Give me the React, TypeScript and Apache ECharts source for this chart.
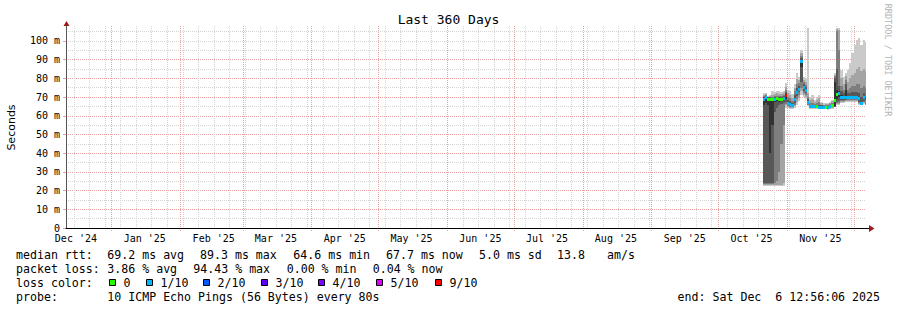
import React, { useEffect, useRef } from "react";
import * as echarts from "echarts";

// time axis in days since 2024-12-01 00:00
const X_MIN = 10.539; // Wed Dec 11 12:56:06 2024
const X_MAX = 370.539; // Sat Dec  6 12:56:06 2025
const DAY0 = 324; // first data bucket (1 bucket = 1 day)
const MONTH_STARTS = [31, 62, 90, 121, 151, 182, 212, 243, 274, 304, 335, 365];
const FIRST_SUNDAY = 14;
const MONTH_LABEL_DAYS = [15, 46, 77, 105, 136, 166, 197, 227, 258, 289, 319, 350];
const MONTH_LABELS = ["Dec '24", "Jan '25", "Feb '25", "Mar '25", "Apr '25", "May '25", "Jun '25", "Jul '25", "Aug '25", "Sep '25", "Oct '25", "Nov '25"];
const Y_TICKS = [0, 10, 20, 30, 40, 50, 60, 70, 80, 90, 100];

const LOSS_LABELS = ["0", "1/10", "2/10", "3/10", "4/10", "5/10", "9/10"];
const LOSS_COLORS = ["#26ff00", "#00b8ff", "#0059ff", "#5e00ff", "#7e00ff", "#dd00ff", "#ff0000"];
const SMOKE_COLORS = ["#cacaca", "#a4a4a4", "#7e7e7e", "#585858", "#323232"];

// median rtt (ms) per day bucket
const MEDIAN = [69.0, 70.0, 69.0, 69.2, 68.8, 69.0, 69.3, 68.8, 69.0, 69.5,
  71.0, 67.0, 66.5, 65.8, 68.8, 72.9, 74.5, 89.3, 75.6, 73.8,
  67.5, 65.2, 65.2, 65.0, 65.0, 64.8, 64.8, 64.7, 64.9, 64.6,
  65.0, 65.5, 68.4, 71.5, 72.0, 70.2, 69.8, 70.0, 70.2, 70.3,
  70.3, 70.3, 70.2, 69.5, 67.0, 69.8, 67.7];
// loss level index into LOSS_LABELS
const LOSS = [1, 1, 0, 0, 0, 1, 0, 0, 0, 1,
  6, 1, 1, 1, 1, 1, 1, 1, 1, 1,
  1, 1, 1, 1, 0, 1, 1, 1, 0, 1,
  1, 0, 0, 0, 1, 1, 1, 1, 1, 1,
  1, 1, 1, 1, 1, 1, 1];
// sorted pings (ms) per day bucket, p1 lowest .. p10 highest
const P1 = [22.6, 22.6, 22.6, 22.6, 22.6, 22.6, 22.6, 22.6, 22.6, 22.6, 64, 64, 63.5, 63.5, 64, 66, 68, 71, 70, 69, 65, 63.5, 63.5, 63.5, 63.5, 63.5, 63.5, 63.5, 63.5, 63.3, 63.5, 63.8, 64.5, 66, 66, 67, 67, 67.5, 67.5, 67.5, 67.5, 67.5, 67.5, 66, 65.5, 66.5, 65.5];
const P2 = [23, 23, 23, 23, 23, 23, 23, 23, 23, 24, 65.5, 64.5, 64, 64, 65, 67.5, 69.5, 73, 71, 70, 65.5, 64, 64, 64, 64, 63.8, 63.8, 63.8, 63.8, 63.6, 63.8, 64.1, 64.6, 66.5, 66.5, 67.5, 67.5, 68, 68, 68, 68, 68, 68, 66.5, 66, 67, 66];
const P3 = [23.5, 23.5, 23.5, 23.5, 23.5, 24, 25, 30, 45, 55, 66.5, 65, 64.5, 64.5, 66, 69, 71, 75, 72, 71, 66, 64.5, 64.5, 64.3, 64.3, 64.1, 64.1, 64, 64.1, 63.9, 64.1, 64.5, 64.7, 67, 67, 68, 68, 68.3, 68.5, 68.5, 68.5, 68.5, 68.5, 67, 66.3, 67.5, 66.5];
const P4 = [24, 24, 24, 24, 24, 62, 64, 66, 66.5, 67, 67.5, 65.5, 65, 65, 67, 70.5, 72.5, 78, 73, 72, 66.5, 64.8, 64.8, 64.6, 64.6, 64.4, 64.4, 64.3, 64.4, 64.2, 64.4, 64.8, 64.8, 67.5, 68, 68.5, 68.5, 68.6, 69, 69, 69, 69, 69, 67.5, 66.6, 68, 67];
const P5 = [66, 67, 66, 40, 55, 67.5, 68, 67.5, 68, 68.5, 69, 66, 65.8, 65.5, 68, 72, 73.5, 86, 74.5, 73, 67, 65, 65, 64.8, 64.8, 64.6, 64.6, 64.5, 64.6, 64.4, 64.7, 65.2, 65, 69, 70, 69.5, 69.3, 69, 69.7, 69.8, 69.8, 69.8, 69.8, 68.5, 66.8, 69, 67.3];
const P6 = [69.5, 70.5, 69.5, 69.5, 69.3, 69.5, 69.8, 69.3, 69.5, 70, 71.5, 67.5, 67, 66, 69.5, 73.5, 75, 90, 76, 74.5, 68, 65.5, 65.5, 65.3, 65.3, 65.2, 65.0, 64.9, 65.0, 64.8, 65.2, 65.7, 78, 74, 73, 71, 70.5, 74, 70.7, 70.8, 70.8, 70.8, 70.8, 70, 67.5, 70.5, 68.2];
const P7 = [70, 70.8, 69.8, 69.8, 69.6, 70, 70.2, 69.8, 70, 70.5, 72.5, 68.5, 68, 67, 71, 75, 76, 91, 77, 75.5, 69, 66, 66, 65.8, 66, 66, 65.5, 65.2, 65.4, 65.2, 65.6, 66.3, 80, 85, 76, 73, 72, 77, 72, 72, 72.5, 72.5, 72.5, 72, 70, 72, 70];
const P8 = [70.5, 71, 70, 70, 70, 70.5, 70.8, 70.5, 70.5, 71, 74, 70, 69.5, 68, 73, 77, 77.5, 92, 78, 76.5, 70, 67, 67, 66.5, 67, 67.5, 66, 65.6, 65.8, 65.6, 66.2, 67, 81.5, 105.5, 95, 76, 74, 79, 74, 75, 76, 76, 77, 77, 75, 76, 75];
const P9 = [71, 71.5, 70.3, 70.5, 71, 71.5, 72, 71.5, 71.5, 72, 75.5, 72, 71, 69.5, 75, 79.5, 79, 93.5, 79, 78, 72, 68.5, 69, 67.5, 68.5, 69.5, 66.8, 66, 66.2, 66.2, 66.8, 67.7, 82, 106.5, 106, 80, 77, 81.5, 78, 80, 82, 83, 85, 86, 84, 85, 84];
const P10 = [72.3, 72, 70.8, 71, 73, 72.5, 73.2, 73, 72.5, 73, 77.5, 74, 73, 71.5, 77, 82.7, 81, 95.2, 81, 80, 106.8, 70, 71.1, 68.5, 70, 71, 67.5, 66.6, 66.8, 67, 67.5, 68.4, 82.7, 106.8, 106.8, 84.5, 81, 83, 84.5, 88, 93.4, 97.8, 100.5, 101.4, 97.8, 100.5, 99.6];
const PINGS = [P1, P2, P3, P4, P5, P6, P7, P8, P9, P10];

const MONO = "'DejaVu Sans Mono', monospace";
const MGRID = "#e9a3a3";
const GRID = "#d4d4d4";

function bandSeries(b: number) {
  const lo = PINGS[b];
  const hi = PINGS[9 - b];
  const color = SMOKE_COLORS[b];
  return {
    type: "custom",
    z: 3 + b * 0.01,
    coordinateSystem: "cartesian2d",
    silent: true,
    encode: { x: 0, y: [1, 2] },
    data: MEDIAN.map((_, i) => [DAY0 + i, lo[i], hi[i]]),
    renderItem: (_p: any, api: any) => {
      const d = api.value(0);
      const a = api.coord([d, api.value(2)]);
      const c = api.coord([Math.min(d + 1, X_MAX), api.value(1)]);
      const x0 = Math.round(a[0]);
      const x1 = Math.round(c[0]);
      const y0 = Math.round(a[1]);
      const y1 = Math.round(c[1]);
      return { type: "rect", shape: { x: x0, y: y0, width: x1 - x0, height: Math.max(1, y1 - y0) }, style: { fill: color } };
    },
  };
}

export default function App() {
  const ref = useRef<HTMLDivElement>(null);
  useEffect(() => {
    if (!ref.current) return;
    const chart = echarts.init(ref.current, undefined, { renderer: "svg" });

    const gridLines: number[][] = [];
    for (let d = FIRST_SUNDAY; d <= X_MAX; d += 7) gridLines.push([d, 0]);
    MONTH_STARTS.forEach((d) => gridLines.push([d, 1]));

    const textEl = (x: number, y: number, text: string, align = "left", extra: any = {}) => ({
      type: "text", x, y, silent: true,
      style: { text, font: `11.6px ${MONO}`, fill: "#000", textAlign: align, textVerticalAlign: "middle", ...extra },
    });

    const legendX = [109, 146, 203, 261, 318, 376, 435];
    const graphics: any[] = [
      textEl(448.5, 19.5, "Last 360 Days", "center", { font: `13px ${MONO}` }),
      { type: "text", x: 11.5, y: 127.5, rotation: Math.PI / 2, silent: true,
        style: { text: "Seconds", font: "11px 'DejaVu Sans', sans-serif", fill: "#000", textAlign: "center", textVerticalAlign: "middle" } },
      { type: "text", x: 887.5, y: 60, rotation: -Math.PI / 2, silent: true,
        style: { text: "RRDTOOL / TOBI OETIKER", font: `8.5px ${MONO}`, fill: "#b4b4b4", textAlign: "center", textVerticalAlign: "middle" } },
      { type: "polygon", silent: true, shape: { points: [[63.5, 26], [69.5, 26], [66.5, 21]] }, style: { fill: "#a01818" } },
      { type: "line", silent: true, shape: { x1: 866, y1: 228.5, x2: 870, y2: 228.5 }, style: { stroke: "#000", lineWidth: 1 } },
      { type: "polygon", silent: true, shape: { points: [[869, 225], [869, 232], [874.5, 228.5]] }, style: { fill: "#a01818" } },
      textEl(16, 254.5, "median rtt:"),
      textEl(107.3, 254.5, "69.2 ms avg"),
      textEl(200, 254.5, "89.3 ms max"),
      textEl(293.3, 254.5, "64.6 ms min"),
      textEl(386, 254.5, "67.7 ms now"),
      textEl(479, 254.5, "5.0 ms sd"),
      textEl(557, 254.5, "13.8"),
      textEl(607, 254.5, "am/s"),
      textEl(16, 268.5, "packet loss:"),
      textEl(107.3, 268.5, "3.86 % avg"),
      textEl(193.3, 268.5, "94.43 % max"),
      textEl(286.7, 268.5, "0.00 % min"),
      textEl(372.7, 268.5, "0.04 % now"),
      textEl(16, 282.5, "loss color:"),
      textEl(16, 296.5, "probe:"),
      textEl(107.3, 296.5, "10 ICMP Echo Pings (56 Bytes) every 80s"),
      textEl(880, 296.5, "end: Sat Dec  6 12:56:06 2025", "right"),
    ];
    LOSS_LABELS.forEach((lab, i) => {
      graphics.push({ type: "rect", silent: true, shape: { x: legendX[i] + 0.5, y: 279.5, width: 6, height: 6 },
        style: { fill: LOSS_COLORS[i], stroke: "#000", lineWidth: 1 } });
      graphics.push(textEl(legendX[i] + 14.5, 282.5, lab));
    });

    chart.setOption({
      animation: false,
      backgroundColor: "#ffffff",
      grid: { left: 66, top: 26, width: 800, height: 202, containLabel: false },
      xAxis: {
        type: "value", min: X_MIN, max: X_MAX, z: 5,
        axisLine: { show: true, lineStyle: { color: "#000", width: 1 } },
        axisTick: { show: false },
        splitLine: { show: false },
        axisLabel: {
          customValues: MONTH_LABEL_DAYS,
          formatter: (v: number) => {
            const k = MONTH_LABEL_DAYS.indexOf(Math.round(v));
            return k >= 0 ? MONTH_LABELS[k] : "";
          },
          fontFamily: MONO, fontSize: 10, color: "#000", margin: 5,
        },
      },
      yAxis: [
        {
          type: "value", min: 0, max: 108, interval: 10, z: 1,
          axisLine: { show: true, lineStyle: { color: "#555", width: 1 } },
          axisTick: { show: true, customValues: Y_TICKS, length: 3, lineStyle: { color: MGRID } },
          axisLabel: {
            customValues: Y_TICKS,
            formatter: (v: number) => (v === 0 ? "0" : `${v} m`),
            fontFamily: MONO, fontSize: 10, color: "#000", margin: 6,
          },
          splitLine: { show: true, showMinLine: false, showMaxLine: false, lineStyle: { color: MGRID, width: 1, type: [1, 1] } },
        },
        {
          type: "value", min: 0, max: 108, interval: 5, z: 0, position: "left",
          axisLine: { show: false }, axisTick: { show: false }, axisLabel: { show: false },
          splitLine: { show: true, showMinLine: false, showMaxLine: false, lineStyle: { color: GRID, width: 1, type: [1, 1] } },
        },
      ],
      series: [
        {
          type: "custom", z: 2, coordinateSystem: "cartesian2d", silent: true,
          encode: { x: 0 },
          data: gridLines,
          renderItem: (params: any, api: any) => {
            const d = api.value(0);
            const major = api.value(1) === 1;
            const p = api.coord([d, 0]);
            const x = Math.round(p[0]) + 0.5;
            const top = params.coordSys.y;
            return {
              type: "line",
              shape: { x1: x, y1: top, x2: x, y2: major ? p[1] + 3 : p[1] },
              style: { stroke: major ? MGRID : GRID, lineWidth: 1, lineDash: [1, 1] },
            };
          },
        },
        bandSeries(0), bandSeries(1), bandSeries(2), bandSeries(3), bandSeries(4),
        {
          type: "custom", z: 4, coordinateSystem: "cartesian2d", silent: true,
          encode: { x: 0, y: 1 },
          data: MEDIAN.map((m, i) => [DAY0 + i, m, LOSS[i]]),
          renderItem: (_p: any, api: any) => {
            const d = api.value(0);
            const a = api.coord([d, api.value(1)]);
            const c = api.coord([Math.min(d + 1, X_MAX), api.value(1)]);
            const x0 = Math.round(a[0]);
            const x1 = Math.round(c[0]);
            const yc = Math.round(a[1]);
            return { type: "rect", shape: { x: x0, y: yc - 1, width: x1 - x0, height: 3 }, style: { fill: LOSS_COLORS[api.value(2)] } };
          },
        },
      ],
      graphic: graphics,
    });
    return () => chart.dispose();
  }, []);
  return <div ref={ref} style={{ position: "absolute", left: 0, top: 0, width: 897, height: 310, background: "#fff" }} />;
}
